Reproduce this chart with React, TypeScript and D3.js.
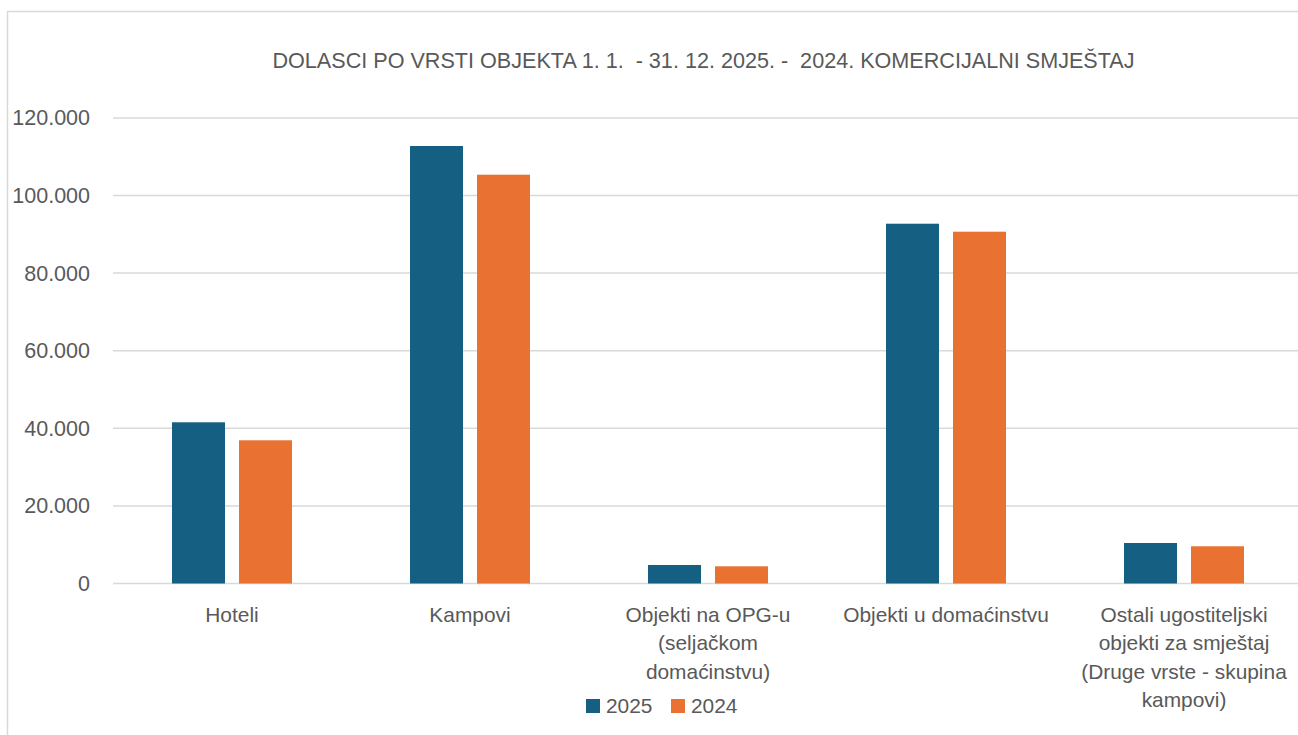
import React from "react";
import * as d3 from "d3";

const categories = [
  "Hoteli",
  "Kampovi",
  "Objekti na OPG-u (seljačkom domaćinstvu)",
  "Objekti u domaćinstvu",
  "Ostali ugostiteljski objekti za smještaj (Druge vrste - skupina kampovi)",
];
const categoryLines = [
  ["Hoteli"],
  ["Kampovi"],
  ["Objekti na OPG-u", "(seljačkom", "domaćinstvu)"],
  ["Objekti u domaćinstvu"],
  ["Ostali ugostiteljski", "objekti za smještaj", "(Druge vrste - skupina", "kampovi)"],
];
const seriesNames = ["2025", "2024"];
const values2025 = [41550, 112760, 4770, 92730, 10440];
const values2024 = [36910, 105360, 4430, 90670, 9590];
const yTicks = [0, 20000, 40000, 60000, 80000, 100000, 120000];
const title = "DOLASCI PO VRSTI OBJEKTA 1. 1.  - 31. 12. 2025. -  2024. KOMERCIJALNI SMJEŠTAJ";

const colors = ["#156082", "#E97132"];
const W = 1298;
const H = 735;
const FONT = "'Liberation Sans', Arial, sans-serif";
const TEXT = "#595959";

export default function App() {
  const x0 = d3.scaleBand<string>().domain(categories).range([113, 113 + 5 * 238]).paddingInner(0).paddingOuter(0);
  const groupW = 120;
  const x1 = d3.scaleBand<string>().domain(seriesNames).range([0, groupW]).paddingInner(14 / 67).paddingOuter(0);
  const y = d3.scaleLinear().domain([0, 120000]).range([583.5, 117.9]);
  const fmt = (v: number) => d3.format(",")(v).replace(/,/g, ".");
  const series = [values2025, values2024];

  return (
    <svg width={W} height={H} style={{ position: "absolute", left: 0, top: 0, background: "#fff" }}>
      <rect x={7.5} y={11.5} width={W} height={H} fill="#fff" stroke="#d9d9d9" strokeWidth={1.5} />
      <text
        x={703.5}
        y={68}
        textAnchor="middle"
        fontFamily={FONT}
        fontSize={21.6}
        fill={TEXT}
        style={{ whiteSpace: "pre" }}
        xmlSpace="preserve"
      >
        {title}
      </text>
      {yTicks.map((t) => (
        <g key={t}>
          <line x1={113} x2={W} y1={y(t)} y2={y(t)} stroke="#d9d9d9" strokeWidth={1.5} />
          <text x={90} y={y(t) + 7.5} textAnchor="end" fontFamily={FONT} fontSize={21.5} fill={TEXT}>
            {fmt(t)}
          </text>
        </g>
      ))}
      {categories.map((c, i) => {
        const bandCenter = (x0(c) as number) + x0.bandwidth() / 2;
        const gx = bandCenter - groupW / 2;
        return (
          <g key={c}>
            {series.map((vals, s) => (
              <rect
                key={s}
                x={gx + (x1(seriesNames[s]) as number)}
                y={y(vals[i])}
                width={x1.bandwidth()}
                height={y(0) - y(vals[i])}
                fill={colors[s]}
              />
            ))}
            {categoryLines[i].map((ln, k) => (
              <text
                key={k}
                x={bandCenter}
                y={621.5 + k * 28.5}
                textAnchor="middle"
                fontFamily={FONT}
                fontSize={20.9}
                fill={TEXT}
              >
                {ln}
              </text>
            ))}
          </g>
        );
      })}
      {seriesNames.map((n, s) => {
        const lx = [586, 671][s];
        return (
          <g key={n}>
            <rect x={lx} y={699} width={14} height={14} fill={colors[s]} />
            <text x={lx + 20} y={712.5} fontFamily={FONT} fontSize={20.9} fill={TEXT}>
              {n}
            </text>
          </g>
        );
      })}
    </svg>
  );
}
